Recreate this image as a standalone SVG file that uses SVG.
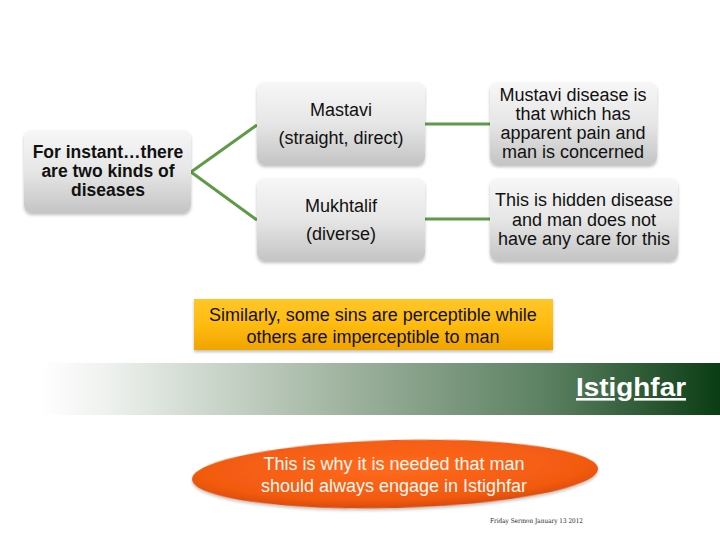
<svg xmlns="http://www.w3.org/2000/svg" width="720" height="540" viewBox="0 0 720 540">
<defs>
<linearGradient id="gray" x1="0" y1="0" x2="0" y2="1">
<stop offset="0" stop-color="#f7f7f7"/>
<stop offset="0.5" stop-color="#e6e6e6"/>
<stop offset="1" stop-color="#c4c4c4"/>
</linearGradient>
<linearGradient id="gold" x1="0" y1="0" x2="0" y2="1">
<stop offset="0" stop-color="#ffc629"/>
<stop offset="0.5" stop-color="#ffbb10"/>
<stop offset="1" stop-color="#f0a400"/>
</linearGradient>
<linearGradient id="band" x1="0" y1="0" x2="1" y2="0">
<stop offset="0" stop-color="#ffffff"/>
<stop offset="0.1" stop-color="#eef1ee"/>
<stop offset="0.45" stop-color="#9fb39f"/>
<stop offset="0.75" stop-color="#5a7f60"/>
<stop offset="1" stop-color="#0a3d14"/>
</linearGradient>
<radialGradient id="orange" cx="0.5" cy="0.4" r="0.6">
<stop offset="0" stop-color="#ff6a1e"/>
<stop offset="0.8" stop-color="#f25a10"/>
<stop offset="1" stop-color="#d84a08"/>
</radialGradient>
<filter id="sh" x="-10%" y="-10%" width="120%" height="130%">
<feDropShadow dx="0" dy="2" stdDeviation="1.5" flood-color="#000" flood-opacity="0.25"/>
</filter>
</defs>
<style>
.node rect{fill:url(#gray);filter:url(#sh)}
.t{font-family:"Liberation Sans",Arial,sans-serif;font-size:18px;fill:#111;text-anchor:middle}
.b{font-weight:bold;font-size:17.5px}
.w{fill:#fff8ee}
.conn line,.conn polyline{stroke:#5e9a48;stroke-width:3;fill:none}
</style>
<rect width="720" height="540" fill="#fff"/>
<g class="conn">
<polyline points="257,125 191,172 257,220"/>
<line x1="424" y1="124" x2="490" y2="124"/>
<line x1="424" y1="219" x2="490" y2="219"/>
</g>
<g id="n-root" class="node">
<rect x="24" y="130" width="167" height="83" rx="8"/>
<text class="t b" x="108" y="158">For instant…there</text>
<text class="t b" x="108" y="177">are two kinds of</text>
<text class="t b" x="108" y="196">diseases</text>
</g>
<g id="n-mastavi" class="node">
<rect x="257" y="82" width="168" height="83" rx="8"/>
<text class="t" x="341" y="116">Mastavi</text>
<text class="t" x="341" y="144">(straight, direct)</text>
</g>
<g id="n-mukhtalif" class="node">
<rect x="257" y="178" width="168" height="83" rx="8"/>
<text class="t" x="341" y="212">Mukhtalif</text>
<text class="t" x="341" y="240">(diverse)</text>
</g>
<g id="n-mustavi" class="node">
<rect x="490" y="82" width="167" height="83" rx="8"/>
<text class="t" x="573" y="101">Mustavi disease is</text>
<text class="t" x="573" y="120">that which has</text>
<text class="t" x="573" y="139">apparent pain and</text>
<text class="t" x="573" y="158">man is concerned</text>
</g>
<g id="n-hidden" class="node">
<rect x="490" y="178" width="188" height="83" rx="8"/>
<text class="t" x="584" y="206">This is hidden disease</text>
<text class="t" x="584" y="226">and man does not</text>
<text class="t" x="584" y="245">have any care for this</text>
</g>
<g id="n-similarly">
<rect x="194" y="299" width="359" height="51" fill="url(#gold)" filter="url(#sh)"/>
<text class="t" x="373" y="321">Similarly, some sins are perceptible while</text>
<text class="t" x="373" y="343">others are imperceptible to man</text>
</g>
<g id="band">
<rect x="40" y="363" width="680" height="52" fill="url(#band)"/>
<text x="576" y="396" font-family="'Liberation Sans',Arial,sans-serif" font-size="26" font-weight="bold" fill="#fff" text-decoration="underline" textLength="110" lengthAdjust="spacingAndGlyphs">Istighfar</text>
</g>
<g id="n-ellipse">
<ellipse cx="395" cy="474" rx="203" ry="34" transform="rotate(-1.5 395 474)" fill="url(#orange)" filter="url(#sh)"/>
<text class="t w" x="394" y="470">This is why it is needed that man</text>
<text class="t w" x="394" y="492">should always engage in Istighfar</text>
</g>
<text x="490" y="523" font-family="'DejaVu Serif',serif" font-size="6.5" fill="#222" textLength="93" lengthAdjust="spacingAndGlyphs">Friday Sermon January 13 2012</text>
</svg>
